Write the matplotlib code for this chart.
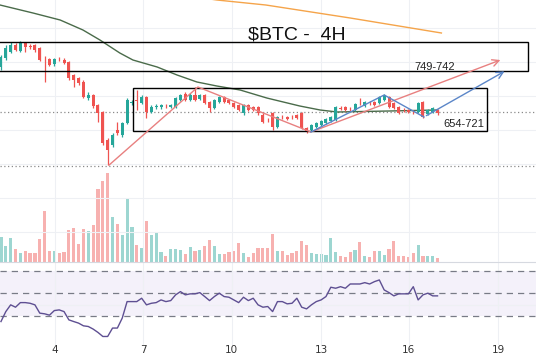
import numpy as np
import matplotlib
matplotlib.use("Agg")
import matplotlib.pyplot as plt
from matplotlib.patches import Rectangle


# =====================================================
#  data (4H candles)
# =====================================================
opens = [733, 742, 748, 755, 749, 757, 754, 755, 752, 742, 741, 736, 741, 740, 738, 725, 722, 718, 702, 705,
         695, 688, 660, 655, 670, 665, 677, 697, 700, 697, 703, 688, 693, 693, 694, 693, 693, 700, 706, 700,
         705, 701, 705, 698, 692, 698, 703, 700, 697, 695, 687, 695, 693, 693, 685, 680, 687, 673, 683, 683,
         683, 685, 687, 672, 670, 673, 675, 677, 679, 680, 692, 693, 691, 690, 699, 694, 697, 698, 697, 700,
         703, 697, 693, 690, 690, 688, 688, 698, 686, 688, 690]
closes = [743, 752, 755, 750, 757, 753, 753, 750, 740, 741.5, 735, 741, 740.5, 737, 722, 720, 717, 703, 705, 694,
          687, 657, 650, 665, 667, 677, 700, 698, 699, 703, 688, 693, 694, 694.5, 693.5, 695, 702, 705, 700, 705,
          700, 705, 697, 692, 700, 703, 698, 697, 693, 690, 695, 690, 690, 687, 678, 679.5, 673, 683, 682.5, 681,
          682.5, 682, 672, 668, 675, 677, 679, 681, 683, 693, 691, 690, 690.5, 696, 698.5, 698, 696.5, 695, 703, 705,
          693, 692, 687, 689.5, 688, 687.5, 697, 683, 690, 692, 687]
highs = [745, 755, 758, 757, 759, 758, 756, 756, 753, 744, 742, 742, 743, 742, 739, 726, 723, 720, 708, 706,
         696, 689, 662, 667, 678, 678, 702, 700, 710, 705, 704, 695, 696, 696, 696, 696, 703, 706, 708, 707,
         713, 706, 706, 699, 701, 704, 704, 701, 698, 696, 696, 696, 694, 694, 687, 682, 688, 684, 685, 684,
         685, 686, 688, 673, 676, 678, 680, 682, 684, 694, 694, 694, 693, 697, 702, 699, 699, 699, 704, 706,
         704, 698, 694, 692, 691, 690, 698, 699, 691, 693, 691]
lows = [730, 740, 747, 749, 748, 748, 751, 748, 739, 718, 734, 734, 739, 736, 720, 713, 715, 702, 700, 692,
        678, 655, 635, 653, 665, 663, 676, 695, 690, 696, 682, 687, 691, 691, 692, 692, 692, 699, 699, 699,
        699, 700, 696, 688, 691, 697, 697, 696, 692, 689, 685, 689, 689, 685, 677, 678, 670, 672, 681, 680,
        681, 681, 671, 667, 669, 672, 674, 676, 678, 679, 690, 689, 689, 689, 695, 693, 695, 694, 696, 699,
        692, 691, 686, 688, 687, 686, 687, 682, 685, 687, 685]
volume = [25, 16, 24, 13, 9, 11, 9, 9, 23, 51, 11, 11, 9, 10, 32, 34, 18, 33, 31, 37,
          73, 81, 89, 45, 38, 27, 64, 35, 17, 14, 41, 27, 29, 10, 6, 13, 13, 12, 8, 15,
          11, 12, 16, 22, 16, 8, 8, 10, 11, 19, 9, 5, 9, 14, 14, 14, 28, 11, 11, 7,
          9, 11, 21, 17, 9, 8, 8, 7, 24, 10, 6, 5, 10, 12, 20, 6, 5, 11, 11, 7,
          13, 21, 6, 6, 5, 9, 17, 6, 6, 6, 4]
rsi = [24.9, 33.8, 39.8, 37.7, 41.8, 41.8, 41.2, 39.8, 32.4, 31.8, 30.6, 34.7, 35.3, 33.8, 26.4, 24.9, 23.5, 21.1, 20.5, 18.2,
       15.2, 11.6, 11.6, 19.1, 19.1, 28.0, 42.7, 42.7, 42.7, 45.7, 39.8, 41.2, 41.8, 44.2, 42.7, 43.6, 48.7, 51.6, 48.7, 49.6,
       49.6, 50.7, 47.2, 43.6, 47.2, 50.2, 47.2, 46.6, 44.2, 41.8, 46.6, 43.6, 45.7, 39.8, 37.7, 38.3, 33.8, 42.7, 42.7, 40.7,
       41.2, 45.7, 37.7, 36.2, 39.8, 42.7, 44.2, 47.2, 55.5, 54.6, 56.0, 54.6, 58.4, 58.4, 58.4, 59.6, 58.4, 60.5, 62.0, 53.1,
       50.7, 47.8, 49.6, 49.6, 49.6, 56.0, 44.2, 48.7, 50.2, 47.8, 47.8]

# moving averages (knots along the drawn curves)
ma_fast_x = [-0.2, 6.6, 12.2, 16.9, 20.4, 24.5, 27.2, 32.2, 36.3, 40.4, 44.5, 49.3, 54.8, 61.6, 65.8, 69.3, 80, 90]
ma_fast_y = [795, 787, 780, 770, 760, 747, 740, 733, 725, 718, 714, 710, 702, 694, 690, 688, 689, 690]
ma_slow_x = [30, 44.5, 54.6, 72, 90.8]
ma_slow_y = [810, 800, 795, 782, 767]

# drawings
red_x, red_y = [22.3, 40.6, 63.9, 103.5], [635, 713, 668, 741]
blue_x, blue_y = [63.9, 79.0, 87.2, 104.3], [668, 705, 683, 730]
zone_hi = (729.3, 757.7)      # 749-742 box
zone_lo = (669.0, 711.7)      # 654-721 box
dotted_levels = [687.7, 634.3]

day_pos = [11.1, 29.3, 47.6, 66.0, 84.1, 102.5]
day_lbl = ["4", "7", "10", "13", "16", "19"]

UP, DOWN = "#26a69a", "#ef5350"
GRID = "#eef0f4"

# =====================================================
#  figure / panes
# =====================================================
fig = plt.figure(figsize=(5.36, 3.56), dpi=100)
ax = fig.add_axes([0, 94/356, 1, 262/356])
axv = ax.twinx()
axr = fig.add_axes([0, 11/356, 1, 83/356], sharex=ax)
ax.set_zorder(axv.get_zorder() + 1)
ax.patch.set_visible(False)

x = np.arange(len(opens))
o, c, h, l = map(np.array, (opens, closes, highs, lows))
cols = np.where(c >= o, UP, DOWN)

# volume
axv.bar(x, volume, width=0.65, color=cols, alpha=0.45, linewidth=0)
axv.set_ylim(0, 262)
axv.axis("off")

# candles
ax.vlines(x, l, h, colors=cols, linewidth=0.9, zorder=4)
body = np.maximum(np.abs(c - o), 0.9)
ax.bar(x, body, bottom=np.minimum(o, c), width=0.62, color=cols, linewidth=0, zorder=5)

# moving averages
ax.plot(ma_fast_x, ma_fast_y, color="#4a6b4a", lw=1.0, zorder=3)
ax.plot(ma_slow_x, ma_slow_y, color="#f5a44a", lw=1.0, zorder=3)

# levels + zones
for lv in dotted_levels:
    ax.axhline(lv, color="#8a8a8a", lw=0.9, ls=(0, (1, 2)), zorder=2)
ax.add_patch(Rectangle((-5, zone_hi[0]), 108.6 + 5, zone_hi[1] - zone_hi[0], fill=False, ec="black", lw=1.0, zorder=6))
ax.add_patch(Rectangle((27.3, zone_lo[0]), 100.2 - 27.3, zone_lo[1] - zone_lo[0], fill=False, ec="black", lw=1.0, zorder=6))
ax.text(89.5, 733, "749-742", fontsize=8, family="Liberation Sans", ha="center", va="center", color="#222", zorder=7)
ax.text(95.5, 676, "654-721", fontsize=8, family="Liberation Sans", ha="center", va="center", color="#222", zorder=7)
ax.text(61, 765, "$BTC -  4H", fontsize=14, family="Liberation Sans", ha="center", va="center", color="#111", zorder=7)

# trend lines with arrows
for xs, ys, col in [(red_x, red_y, "#e88080"), (blue_x, blue_y, "#5b86c8")]:
    ax.plot(xs[:-1], ys[:-1], color=col, lw=1.0, zorder=6)
    ax.annotate("", xy=(xs[-1], ys[-1]), xytext=(xs[-2], ys[-2]),
                arrowprops=dict(arrowstyle="->", color=col, lw=1.0, mutation_scale=12), zorder=6)

ax.set_xlim(-0.2, 110.3)
ax.set_ylim(538, 800)
ax.set_yticks(np.arange(568, 800, 34))
ax.grid(True, color=GRID, lw=0.8)
ax.tick_params(length=0, labelleft=False, labelbottom=False)
for s in ax.spines.values():
    s.set_visible(False)

# RSI pane
axr.axhspan(30, 70, color="#7e57c2", alpha=0.08, lw=0)
for lv in (70, 50, 30):
    axr.axhline(lv, color="#787b86", lw=0.9, ls=(0, (5, 4)))
axr.axhline(40, color=GRID, lw=0.8)
axr.plot(x, rsi, color="#5e4f92", lw=1.0)
axr.set_ylim(4, 78)
axr.set_xticks(day_pos)
axr.set_xticklabels(day_lbl, fontsize=7.5, color="#333")
axr.xaxis.grid(True, color=GRID, lw=0.8)
axr.tick_params(length=0, pad=0, labelleft=False)
axr.set_yticks([])
for s in axr.spines.values():
    s.set_visible(False)
axr.spines["top"].set_visible(True)
axr.spines["top"].set_color("#d6d9e0")

fig.savefig("out.png", dpi=100)
plt.close(fig)
